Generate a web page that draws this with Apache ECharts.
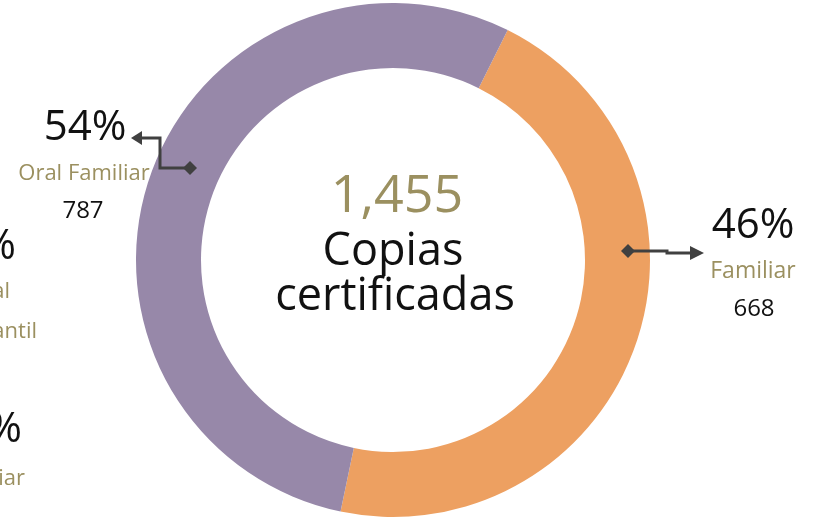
<!DOCTYPE html>
<html>
<head>
<meta charset="utf-8">
<script src="https://cdn.jsdelivr.net/npm/echarts@6/dist/echarts.min.js"></script>
<style>
  html, body { margin: 0; padding: 0; background: #fff; }
  #main { width: 824px; height: 519px; }
</style>
</head>
<body>
<div id="main"></div>
<script>
// datos
const categories = ['Familiar', 'Oral Familiar'];
const values = [668, 787];
const colors = ['#eda061', '#9788a9'];
const centerTitle = ['Copias', 'certificadas'];
// fragmentos del gráfico vecino (cortados por el borde)
const sideTexts = ['%', 'al', 'antil', '%', 'iar'];

const total = values.reduce((a, b) => a + b, 0);
const pct = values.map(v => Math.round(v / total * 100) + '%');
const fmt = n => n.toLocaleString('en-US');

const FONT = 'Open Sans';
const gold = '#9b9060';
const dark = '#404040';

let chartDom = document.getElementById('main');
let myChart = echarts.init(chartDom);

function txt(x, y, text, size, color, align) {
  return {
    type: 'text', x: x, y: y, z: 100, silent: true,
    style: { text: text, fontFamily: FONT, fontSize: size, fill: color, align: align || 'center', verticalAlign: 'middle' }
  };
}

let graphics = [
  // centro
  txt(397, 197, fmt(total), 52, gold),
  txt(393, 252, centerTitle[0], 45, '#111'),
  txt(395, 297, centerTitle[1], 45, '#111'),
  // Oral Familiar (izquierda)
  txt(85, 128, pct[1], 42, '#111'),
  txt(84, 174, categories[1], 22, gold),
  txt(83, 211, fmt(values[1]), 24, '#111'),
  // Familiar (derecha)
  txt(753, 226, pct[0], 42, '#111'),
  txt(753, 271, categories[0], 23, gold),
  txt(754, 309, fmt(values[0]), 24, '#111'),
  // líneas guía
  { type: 'polyline', z: 100, silent: true, shape: { points: [[190, 168], [160, 168], [160, 138], [140, 138]] },
    style: { stroke: dark, lineWidth: 3, fill: null } },
  { type: 'polygon', z: 100, silent: true, shape: { points: [[131, 138], [142, 131], [142, 145]] }, style: { fill: dark } },
  { type: 'polygon', z: 100, silent: true, shape: { points: [[190, 161], [197, 168], [190, 175], [183, 168]] }, style: { fill: dark } },
  { type: 'polyline', z: 100, silent: true, shape: { points: [[628, 251], [667, 251], [667, 253], [692, 253]] },
    style: { stroke: dark, lineWidth: 3, fill: null } },
  { type: 'polygon', z: 100, silent: true, shape: { points: [[704, 253], [690, 246], [690, 260]] }, style: { fill: dark } },
  { type: 'polygon', z: 100, silent: true, shape: { points: [[628, 244], [635, 251], [628, 258], [621, 251]] }, style: { fill: dark } },
  // textos del borde izquierdo
  txt(16, 247, sideTexts[0], 42, '#111', 'right'),
  txt(10, 292, sideTexts[1], 22, gold, 'right'),
  txt(37, 332, sideTexts[2], 22, gold, 'right'),
  txt(22, 430, sideTexts[3], 42, '#111', 'right'),
  txt(25, 479, sideTexts[4], 22, gold, 'right')
];

let option = {
  animation: false,
  backgroundColor: '#fff',
  graphic: graphics,
  series: [
    {
      type: 'pie',
      center: [393, 260],
      radius: [192, 257],
      startAngle: 63.5,
      clockwise: true,
      silent: true,
      label: { show: false },
      labelLine: { show: false },
      data: categories.map((c, i) => ({ name: c, value: values[i], itemStyle: { color: colors[i] } }))
    }
  ]
};
option && myChart.setOption(option);
</script>
</body>
</html>
